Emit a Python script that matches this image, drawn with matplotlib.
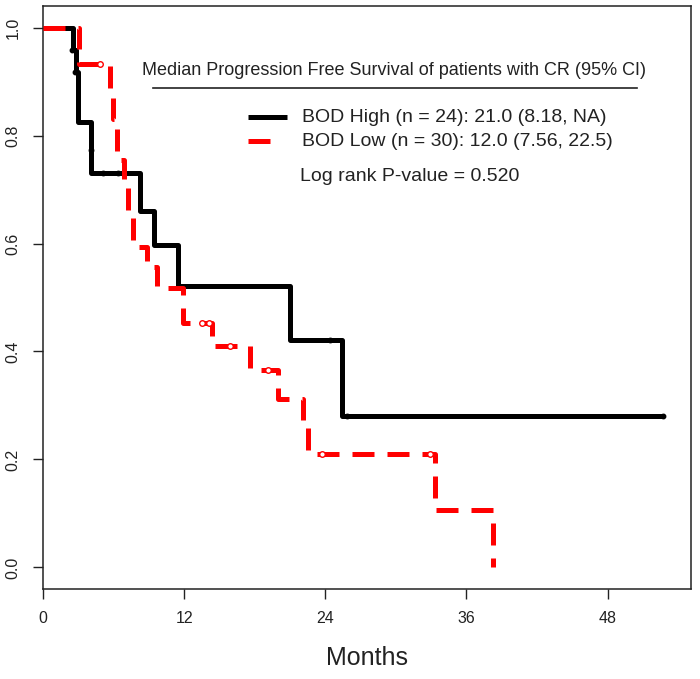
import matplotlib
matplotlib.use("Agg")
import matplotlib.pyplot as plt
from matplotlib.lines import Line2D

plt.rcParams['font.family'] = ['Liberation Sans', 'DejaVu Sans']

# ---- data ----
high_times = [0, 2.55, 2.8, 2.95, 4.1, 8.25, 9.45, 11.5, 21.0, 25.4, 52.7]
high_surv = [1.0, 0.958, 0.917, 0.826, 0.730, 0.660, 0.598, 0.522, 0.421, 0.280, 0.280]
high_cens_t = [2.45, 2.72, 4.1, 5.1, 6.4, 24.4, 25.85, 52.7]
high_cens_s = [0.958, 0.917, 0.774, 0.730, 0.730, 0.421, 0.280, 0.280]

low_times = [0, 3.05, 5.7, 5.95, 6.27, 6.9, 7.23, 7.65, 8.84, 9.69, 11.9, 14.35,
             17.6, 20.0, 22.1, 22.5, 33.3, 38.3]
low_surv = [1.0, 0.933, 0.87, 0.83, 0.755, 0.72, 0.66, 0.593, 0.556, 0.518, 0.453,
            0.411, 0.365, 0.312, 0.259, 0.210, 0.107, 0.0]
low_cens_t = [4.85, 13.5, 14.1, 15.9, 19.1, 23.7, 32.9]
low_cens_s = [0.933, 0.453, 0.453, 0.411, 0.365, 0.210, 0.210]

x_ticks = [0, 12, 24, 36, 48]
y_ticks = [0.0, 0.2, 0.4, 0.6, 0.8, 1.0]

legend_title = "Median Progression Free Survival of patients with CR (95% CI)"
legend_labels = ["BOD High (n = 24): 21.0 (8.18, NA)", "BOD Low (n = 30): 12.0 (7.56, 22.5)"]
pvalue_text = "Log rank P-value = 0.520"

# ---- figure ----
fig = plt.figure(figsize=(7.0, 6.79), dpi=100)
W, H = 700, 679
L, R, T, B = 43, 691, 6, 589
ax = fig.add_axes([L / W, 1 - B / H, (R - L) / W, (B - T) / H])

lw = 3.6
txt = '#222222'

ax.step(high_times, high_surv, where='post', color='black', lw=lw,
        solid_capstyle='butt', zorder=2)
ax.plot(high_cens_t, high_cens_s, 'o', color='black', ms=3.2, zorder=3)

low_line, = ax.step(low_times, low_surv, where='post', color='#ff0000', lw=lw,
                    zorder=4)
low_line.set_dashes((4.4, 2.6))
low_line.set_dash_capstyle('butt')
ax.plot(low_cens_t, low_cens_s, 'o', mfc='white', mec='#ff0000', mew=1.0, ms=4.0,
        zorder=5)

ax.set_xlim(0, 55.1)
ax.set_ylim(-0.04, 1.04)
ax.set_xticks(x_ticks)
ax.set_xticklabels([str(v) for v in x_ticks])
ax.set_yticks(y_ticks)
ax.set_yticklabels([f"{v:.1f}" for v in y_ticks], rotation=90, va='center')
ax.tick_params(axis='both', direction='out', length=7.5, width=1.0, labelsize=11.5,
               colors='#222222', pad=8.5)
for s in ax.spines.values():
    s.set_linewidth(1.1)
    s.set_color('#222222')
ax.set_xlabel("Months", fontsize=18, color=txt, labelpad=14)

# ---- legend block ----
ax.text(0.5417, 0.890, legend_title, transform=ax.transAxes, ha='center',
        va='center', fontsize=13, color=txt)
ax.add_line(Line2D([0.1698, 0.9167], [0.8588, 0.8588], transform=ax.transAxes,
                   color='#222222', lw=1.2))
ax.add_line(Line2D([0.316, 0.377], [0.8096, 0.8096], transform=ax.transAxes,
                   color='black', lw=lw, solid_capstyle='butt'))
ax.add_line(Line2D([0.316, 0.350], [0.7684, 0.7684], transform=ax.transAxes,
                   color='#ff0000', lw=lw, solid_capstyle='butt'))
ax.text(0.399, 0.8096, legend_labels[0], transform=ax.transAxes, ha='left',
        va='center', fontsize=14, color=txt)
ax.text(0.399, 0.7684, legend_labels[1], transform=ax.transAxes, ha='left',
        va='center', fontsize=14, color=txt)
ax.text(0.3966, 0.7072, pvalue_text, transform=ax.transAxes, ha='left',
        va='center', fontsize=14, color=txt)

fig.savefig("out.png", dpi=100)
